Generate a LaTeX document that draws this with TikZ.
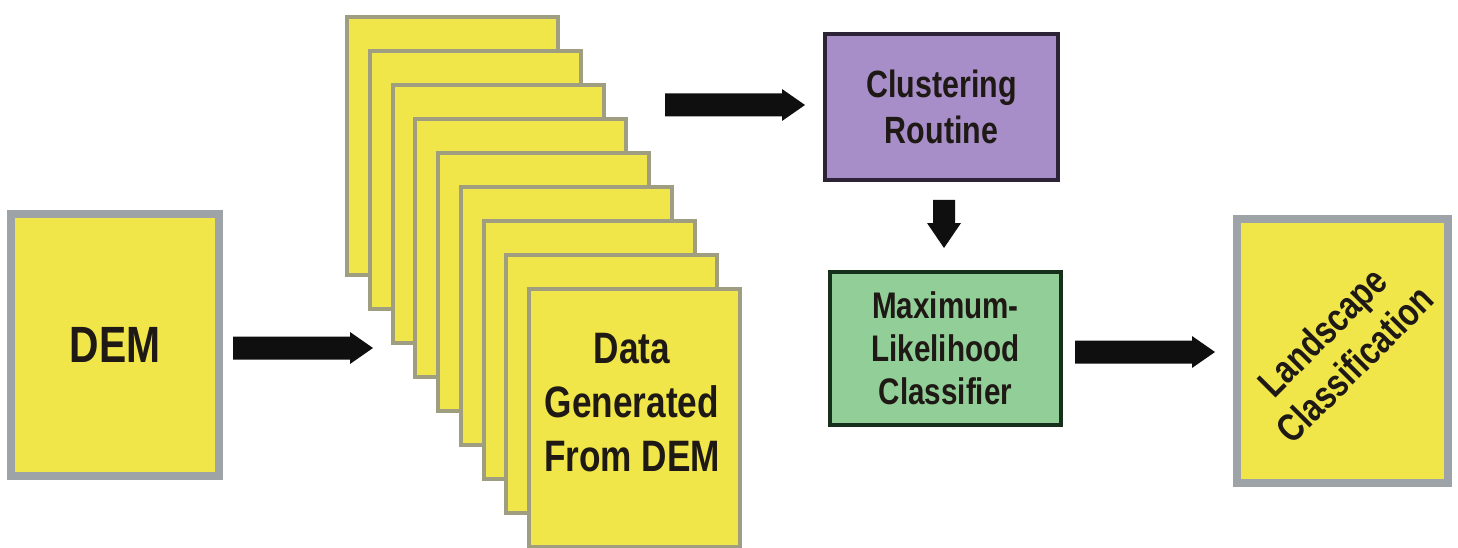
\documentclass[tikz,border=0pt]{standalone}
\usepackage{fontspec}
\setmainfont{Liberation Sans}[FakeStretch=0.8]
\usetikzlibrary{calc}
\definecolor{yel}{RGB}{240,230,74}
\definecolor{demgray}{RGB}{158,163,168}
\definecolor{pagegray}{RGB}{160,158,128}
\definecolor{purp}{RGB}{168,142,200}
\definecolor{purpborder}{RGB}{45,35,55}
\definecolor{grn}{RGB}{146,206,152}
\definecolor{grnborder}{RGB}{22,48,28}
\definecolor{txt}{RGB}{30,25,20}
\definecolor{arrowc}{RGB}{15,15,15}
\tikzset{
  base/.style={inner sep=0pt, outer sep=0pt, text=txt, align=center},
  ybox/.style={base, draw=demgray, line width=8pt, fill=yel, minimum width=208pt, minimum height=262pt},
  pagebox/.style={base, draw=pagegray, line width=4pt, fill=yel, minimum width=211pt, minimum height=258pt},
  clbox/.style={base, draw=purpborder, line width=4pt, fill=purp, minimum width=233pt, minimum height=146pt,
    font=\bfseries\fontsize{38}{46}\selectfont},
  mlbox/.style={base, draw=grnborder, line width=4pt, fill=grn, minimum width=231pt, minimum height=153pt,
    font=\bfseries\fontsize{37}{43}\selectfont},
  rarrow/.style={fill=arrowc, to path={
    ($(\tikztostart)+(0pt,11.5pt)$) -- ($(\tikztotarget)+(-23pt,11.5pt)$) -- ($(\tikztotarget)+(-23pt,16pt)$)
    -- (\tikztotarget) -- ($(\tikztotarget)+(-23pt,-16pt)$) -- ($(\tikztotarget)+(-23pt,-11.5pt)$)
    -- ($(\tikztostart)+(0pt,-11.5pt)$) -- cycle}},
  darrow/.style={fill=arrowc, to path={
    ($(\tikztostart)+(-11pt,0pt)$) -- ($(\tikztotarget)+(-11pt,25pt)$) -- ($(\tikztotarget)+(-17pt,25pt)$)
    -- (\tikztotarget) -- ($(\tikztotarget)+(17pt,25pt)$) -- ($(\tikztotarget)+(11pt,25pt)$)
    -- ($(\tikztostart)+(11pt,0pt)$) -- cycle}},
}
\begin{document}
\begin{tikzpicture}[x=1pt,y=-1pt]
  \useasboundingbox (0,0) rectangle (1458,548);
  \fill[white] (0,0) rectangle (1458,548);
  \clip (0,0) rectangle (1458,548);

  % DEM
  \node[ybox, font=\bfseries\fontsize{51}{60}\selectfont] (dem) at (115,345) {DEM};

  % stack of pages
  \foreach \i in {1,...,9} {
    \node[pagebox] (p\i) at ({452.5+22.75*(\i-1)},{146+34*(\i-1)}) {};
  }
  \node[base, font=\bfseries\fontsize{44}{54}\selectfont] (datatxt) at ($(p9.center)+(-2.5pt,15pt)$)
    {Data\\Generated\\From DEM};

  % clustering
  \node[clbox] (clust) at (941.5,107) {Clustering\\Routine};

  % maximum likelihood
  \node[mlbox] (ml) at (945.5,348.5) {Maximum-\\Likelihood\\Classifier};

  % landscape classification
  \node[ybox, minimum width=211pt, minimum height=264pt] (land) at (1342.5,351) {};
  \node[base, rotate=45, font=\bfseries\fontsize{39}{46}\selectfont] (landtxt) at ($(land.center)+(-4pt,3pt)$)
    {Landscape\\Classification};

  % arrows
  \coordinate (a1s) at ($(dem.east)+(14pt,-3pt)$);
  \coordinate (a1e) at ($(p3.west |- a1s)+(-19.5pt,0pt)$);
  \fill[rarrow] (a1s) to (a1e);

  \coordinate (a2s) at ($(p3.east |- clust.west)+(61.5pt,2pt)$);
  \coordinate (a2e) at ($(clust.west |- a2s)+(-20pt,0pt)$);
  \fill[rarrow] (a2s) to (a2e);

  \coordinate (a3s) at ($(clust.south)+(2.5pt,-20pt)$);
  \coordinate (a3e) at ($(ml.north -| a3s)+(0pt,24pt)$);
  \fill[darrow] (a3s) to (a3e);

  \coordinate (a4s) at ($(ml.east)+(14pt,-3.5pt)$);
  \coordinate (a4e) at ($(land.west |- a4s)+(-22pt,0pt)$);
  \fill[rarrow] (a4s) to (a4e);
\end{tikzpicture}
\end{document}
